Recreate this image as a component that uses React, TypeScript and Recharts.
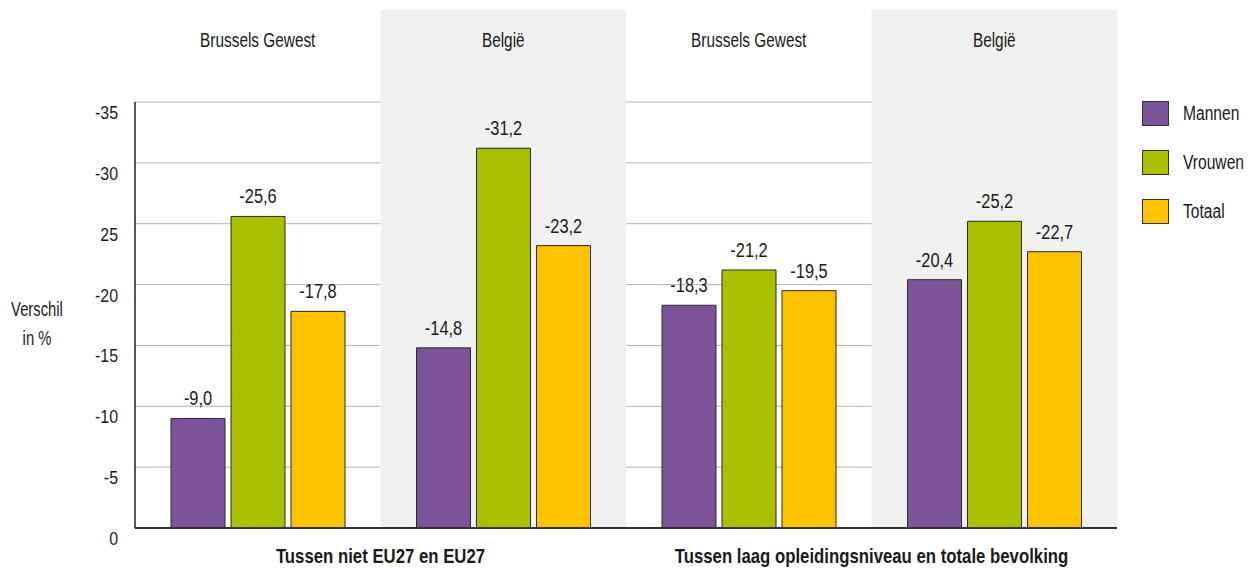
import React from "react";
import {
  BarChart,
  Bar,
  XAxis,
  YAxis,
  CartesianGrid,
  ReferenceArea,
  LabelList,
  Legend,
} from "recharts";

const groupKeys = ["bxl-eu", "be-eu", "bxl-opl", "be-opl"];
const regionLabels = ["Brussels Gewest", "België", "Brussels Gewest", "België"];
const comparisonLabels = [
  "Tussen niet EU27 en EU27",
  "Tussen laag opleidingsniveau en totale bevolking",
];
const shadedGroups = ["be-eu", "be-opl"];

const mannen = [-9.0, -14.8, -18.3, -20.4];
const vrouwen = [-25.6, -31.2, -21.2, -25.2];
const totaal = [-17.8, -23.2, -19.5, -22.7];

const seriesNames = ["Mannen", "Vrouwen", "Totaal"];
const seriesKeys = ["mannen", "vrouwen", "totaal"];
const seriesColors = ["#7d5499", "#aabf00", "#fdc300"];

const yTicks = [0, 5, 10, 15, 20, 25, 30, 35];
const yTickLabels = ["0", "-5", "-10", "-15", "-20", "25", "-30", "-35"];

const data = groupKeys.map((k, i) => ({
  key: k,
  region: regionLabels[i],
  mannen: mannen[i],
  vrouwen: vrouwen[i],
  totaal: totaal[i],
}));

const FONT = "'Liberation Sans', Arial, sans-serif";
const TEXT = "#1a1a1a";

const fmt = (v: any) => Number(v).toFixed(1).replace(".", ",");

// Condensed-looking text: horizontally squeezed SVG text
const CText = (p: any) => {
  const { x, y, sx, size, anchor = "middle", bold = false, children } = p;
  return (
    <text
      transform={`translate(${x} ${y}) scale(${sx} 1)`}
      x={0}
      y={0}
      textAnchor={anchor}
      fill={TEXT}
      fontSize={size}
      fontWeight={bold ? "bold" : "normal"}
      fontFamily={FONT}
    >
      {children}
    </text>
  );
};

const TopTick = (props: any) => {
  const { x, y, index } = props;
  return (
    <CText x={x} y={y - 55.5} sx={0.75} size={20.5}>
      {regionLabels[index]}
    </CText>
  );
};

const BottomTick = (props: any) => {
  const { x, y, index, payload } = props;
  if (index % 2 !== 0) return null;
  const off = payload && payload.offset ? payload.offset : 0;
  return (
    <CText x={x + off} y={y + 35} sx={0.86} size={19.5} bold>
      {comparisonLabels[index / 2]}
    </CText>
  );
};

const YTick = (props: any) => {
  const { x, y, payload } = props;
  const idx = yTicks.indexOf(payload.value);
  return (
    <CText x={x} y={y + 17} sx={0.86} size={18.5} anchor="end">
      {yTickLabels[idx]}
    </CText>
  );
};

const YTitle = (props: any) => {
  const vb = props.viewBox || {};
  const cy = vb.y + vb.height / 2;
  return (
    <g>
      <CText x={37} y={cy + 1} sx={0.76} size={19.5}>Verschil</CText>
      <CText x={37} y={cy + 30} sx={0.76} size={19.5}>in %</CText>
    </g>
  );
};

const BarLabel = (props: any) => {
  const { x, y, width, value } = props;
  return (
    <CText x={x + width / 2} y={y - 13} sx={0.8} size={20.5}>
      {fmt(value)}
    </CText>
  );
};

const BandShape = (props: any) => {
  const { x, y, width, height } = props;
  return <rect x={x} y={10} width={width} height={y + height - 10} fill="#f0f0f0" stroke="none" />;
};

const renderLegend = () => (
  <div style={{ fontFamily: FONT }}>
    {seriesNames.map((n, i) => (
      <div
        key={n}
        style={{ display: "flex", alignItems: "center", height: 25, marginBottom: 24 }}
      >
        <span
          style={{
            display: "inline-block",
            flex: "0 0 auto",
            width: 27,
            height: 25,
            background: seriesColors[i],
            border: "1px solid #333",
            boxSizing: "border-box",
          }}
        />
        <span
          style={{
            marginLeft: 14,
            fontSize: 19.5,
            color: TEXT,
            display: "inline-block",
            transform: "scaleX(0.8)",
            transformOrigin: "left center",
            whiteSpace: "nowrap",
          }}
        >
          {n}
        </span>
      </div>
    ))}
  </div>
);

export default function App() {
  return (
    <div style={{ position: "absolute", left: 0, top: 0, width: 1249, height: 568, background: "#fff" }}>
      <BarChart
        width={1249}
        height={568}
        data={data}
        margin={{ top: 10, right: 132, bottom: 0, left: 0 }}
        barSize={54}
        barGap={6}
      >
        {shadedGroups.map((g) => (
          <ReferenceArea
            key={g}
            x1={g}
            x2={g}
            xAxisId="bottom"
            ifOverflow="visible"
            shape={BandShape}
          />
        ))}
        <CartesianGrid vertical={false} stroke="#b3b3b3" strokeWidth={1} xAxisId="bottom" />
        <XAxis
          xAxisId="bottom"
          dataKey="key"
          orientation="bottom"
          height={40}
          tickSize={0}
          tickMargin={0}
          tickLine={false}
          axisLine={{ stroke: "#333", strokeWidth: 2 }}
          tick={<BottomTick />}
          interval={0}
        />
        <XAxis
          xAxisId="top"
          dataKey="key"
          orientation="top"
          height={92}
          tickSize={0}
          tickMargin={0}
          tickLine={false}
          axisLine={false}
          tick={<TopTick />}
          interval={0}
        />
        <YAxis
          width={135}
          domain={[0, 35]}
          ticks={yTicks}
          interval={0}
          tickSize={0}
          tickMargin={17}
          tickLine={false}
          axisLine={{ stroke: "#222", strokeWidth: 1.5 }}
          tick={<YTick />}
          label={{ content: <YTitle /> }}
        />
        <Legend
          layout="vertical"
          align="center"
          verticalAlign="middle"
          content={renderLegend}
          wrapperStyle={{ left: 1142, top: 101, width: 107, height: 150 }}
        />
        {seriesKeys.map((k, i) => (
          <Bar
            key={k}
            xAxisId="bottom"
            name={seriesNames[i]}
            dataKey={(d: any) => -d[k]}
            fill={seriesColors[i]}
            stroke="#2a2a2a"
            strokeWidth={1}
            isAnimationActive={false}
          >
            <LabelList dataKey={k} position="top" content={<BarLabel />} />
          </Bar>
        ))}
      </BarChart>
    </div>
  );
}
